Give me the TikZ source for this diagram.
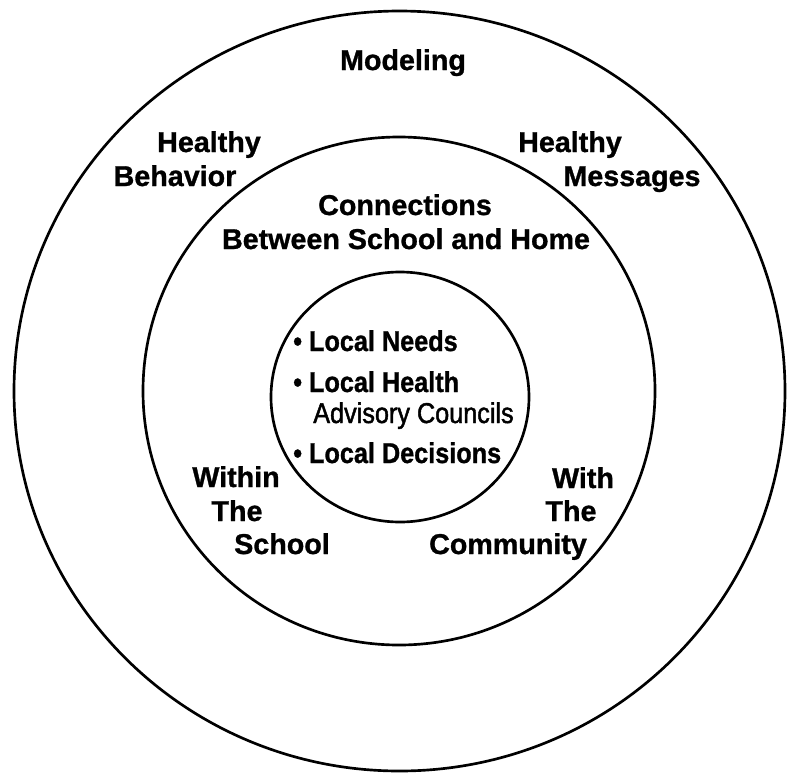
\documentclass[tikz,border=0pt]{standalone}
\usepackage{fontspec}
\setmainfont{Liberation Sans}[BoldFeatures={FakeBold=1}]
\newfontfamily\narrowfont[FakeStretch=0.88, BoldFeatures={FakeBold=1}]{Liberation Sans}
\newfontfamily\midfont[FakeStretch=0.88, FakeBold=1.5]{Liberation Sans}
\usepackage{tikz}

\begin{document}
\begin{tikzpicture}[x=0.75pt, y=-0.75pt,
    ring/.style={line width=2pt},
    lbl/.style={inner sep=0pt, anchor=base, font=\fontsize{21.5}{26}\selectfont\bfseries},
    item/.style={inner sep=0pt, anchor=base west, font=\narrowfont\fontsize{21.5}{26}\selectfont\bfseries}]
    \useasboundingbox (0,0) rectangle (793,772);
    \begin{scope}
      % the three rings
      \draw[ring] (399.5,391) ellipse [x radius=385.5, y radius=380];
      \draw[ring] (399,391) ellipse [x radius=256, y radius=254];
      \draw[ring] (400,397) ellipse [x radius=129, y radius=125];
    \end{scope}
    \begin{scope}
      % outer ring
      \node[lbl] (modeling) at (403, 70) {Modeling};
      \node[lbl] (behavA) at (209, 152) {Healthy};
      \node[lbl] (behavB) at (175, 186) {Behavior};
      \node[lbl] (messA) at (570, 152) {Healthy};
      \node[lbl] (messB) at (632, 186) {Messages};
      % middle ring
      \node[lbl] (connA) at (405, 215) {Connections};
      \node[lbl] (connB) at (406, 249) {Between School and Home};
      \node[lbl] (schoolA) at (236, 487) {Within};
      \node[lbl] (schoolB) at (237, 521) {The};
      \node[lbl] (schoolC) at (282, 554) {School};
      \node[lbl] (commA) at (583, 488) {With};
      \node[lbl] (commB) at (571, 521) {The};
      \node[lbl] (commC) at (508, 554) {Community};
      % inner ring
      \node[item] (needs) at (293, 351) {\textbullet\ Local Needs};
      \node[item] (healthA) at (293, 392) {\textbullet\ Local Health};
      \node[item, font=\midfont\fontsize{21.5}{26}\selectfont] (healthB) at (313, 423) {Advisory Councils};
      \node[item] (decide) at (293, 463) {\textbullet\ Local Decisions};
    \end{scope}
\end{tikzpicture}
\end{document}
